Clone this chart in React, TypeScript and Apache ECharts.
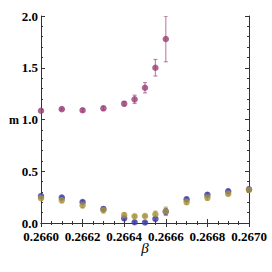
import React, { useEffect, useRef } from "react";
import * as echarts from "echarts";

const betaMag = [0.266, 0.2661, 0.2662, 0.2663, 0.2664, 0.26645, 0.2665, 0.26655, 0.2666];
const magValues = [1.085, 1.1, 1.089, 1.108, 1.153, 1.195, 1.307, 1.5, 1.778];
const magErr = [0.015, 0.01, 0.015, 0.02, 0.02, 0.04, 0.05, 0.08, 0.22];

const betaLow = [0.266, 0.2661, 0.2662, 0.2663, 0.2664, 0.26645, 0.2665, 0.26655, 0.2666, 0.2667, 0.2668, 0.2669, 0.267];
const blueValues = [0.26, 0.245, 0.203, 0.135, 0.045, 0.007, 0.005, 0.04, 0.11, 0.229, 0.273, 0.306, 0.326];
const blueErr = [0.02, 0.015, 0.015, 0.02, 0.015, 0.01, 0.01, 0.015, 0.03, 0.02, 0.02, 0.02, 0.02];
const goldValues = [0.24, 0.22, 0.171, 0.126, 0.077, 0.065, 0.068, 0.084, 0.113, 0.203, 0.245, 0.283, 0.32];
const goldErr = [0.02, 0.025, 0.025, 0.03, 0.02, 0.01, 0.01, 0.03, 0.04, 0.025, 0.025, 0.02, 0.02];

const xTicks = ["0.2660", "0.2662", "0.2664", "0.2666", "0.2668", "0.2670"];
const yTicks = ["0.0", "0.5", "1.0", "1.5", "2.0"];

const MAG = "#993d76";
const BLUE = "#3d3da6";
const GOLD = "#a8923a";

function errSeries(xs: number[], ys: number[], es: number[], color: string, opacity: number) {
  return {
    type: "custom",
    silent: true,
    clip: true,
    data: xs.map((x, i) => [x, ys[i] - es[i], ys[i] + es[i]]),
    renderItem: (params: any, api: any) => {
      const lo = api.coord([api.value(0), api.value(1)]);
      const hi = api.coord([api.value(0), api.value(2)]);
      const st = { stroke: color, lineWidth: 1.2, opacity };
      return {
        type: "group",
        children: [
          { type: "line", shape: { x1: lo[0], y1: lo[1], x2: hi[0], y2: hi[1] }, style: st },
          { type: "line", shape: { x1: lo[0] - 2, y1: lo[1], x2: lo[0] + 2, y2: lo[1] }, style: st },
          { type: "line", shape: { x1: hi[0] - 2, y1: hi[1], x2: hi[0] + 2, y2: hi[1] }, style: st },
        ],
      };
    },
  };
}

const labelFont = { fontFamily: "Liberation Serif", fontWeight: "bold" as const, fontSize: 13, color: "#000" };

export default function App() {
  const ref = useRef<HTMLDivElement>(null);
  useEffect(() => {
    const chart = echarts.init(ref.current!, undefined, { renderer: "svg" });
    const axisLine = { show: true, lineStyle: { color: "#333", width: 1 } };
    const xBase = {
      type: "value",
      min: 0.266,
      max: 0.267,
      interval: 0.0002,
      splitLine: { show: false },
      axisLine,
      axisTick: { inside: true, length: 4, lineStyle: { color: "#333" } },
      minorTick: { show: true, splitNumber: 4, length: 2, lineStyle: { color: "#333" } },
    };
    const yBase = {
      type: "value",
      min: 0,
      max: 2,
      interval: 0.5,
      splitLine: { show: false },
      axisLine,
      axisTick: { inside: true, length: 4, lineStyle: { color: "#333" } },
      minorTick: { show: true, splitNumber: 5, length: 2, lineStyle: { color: "#333" } },
    };
    chart.setOption({
      animation: false,
      grid: { left: 41, top: 16, right: 23, bottom: 49 },
      xAxis: [
        {
          ...xBase,
          position: "bottom",
          axisLabel: {
            ...labelFont,
            margin: 7,
            formatter: (v: number) => {
              const i = Math.round((v - 0.266) / 0.0002);
              return xTicks[i] ?? "";
            },
          },
        },
        { ...xBase, position: "top", axisLabel: { show: false } },
      ],
      yAxis: [
        {
          ...yBase,
          position: "left",
          axisLabel: {
            ...labelFont,
            margin: 3,
            formatter: (v: number) => {
              const i = Math.round(v / 0.5);
              return yTicks[i] ?? "";
            },
          },
        },
        { ...yBase, position: "right", axisLabel: { show: false } },
      ],
      graphic: [
        {
          type: "text",
          x: 9,
          y: 120,
          style: { text: "m", font: "bold 12px 'Liberation Serif'", fill: "#000", textAlign: "left", textVerticalAlign: "middle" },
        },
        {
          type: "text",
          x: 145,
          y: 248,
          style: { text: "β", font: "italic 15px 'Liberation Serif'", fill: "#000", textAlign: "center", textVerticalAlign: "middle" },
        },
      ],
      series: [
        errSeries(betaMag, magValues, magErr, MAG, 0.6),
        {
          type: "scatter",
          symbol: "circle",
          symbolSize: 6.5,
          itemStyle: { color: MAG },
          data: betaMag.map((x, i) => [x, magValues[i]]),
          clip: true,
        },
        errSeries(betaLow, blueValues, blueErr, BLUE, 0.6),
        {
          type: "scatter",
          symbolSize: 6.5,
          itemStyle: { color: BLUE },
          data: betaLow.map((x, i) => [x, blueValues[i]]),
          clip: false,
        },
        errSeries(betaLow, goldValues, goldErr, GOLD, 0.7),
        {
          type: "scatter",
          symbolSize: 6.5,
          itemStyle: { color: GOLD },
          data: betaLow.map((x, i) => [x, goldValues[i]]),
          clip: false,
        },
      ],
    });
    return () => chart.dispose();
  }, []);
  return <div ref={ref} style={{ width: 272, height: 272, position: "absolute", left: 0, top: 0 }} />;
}
